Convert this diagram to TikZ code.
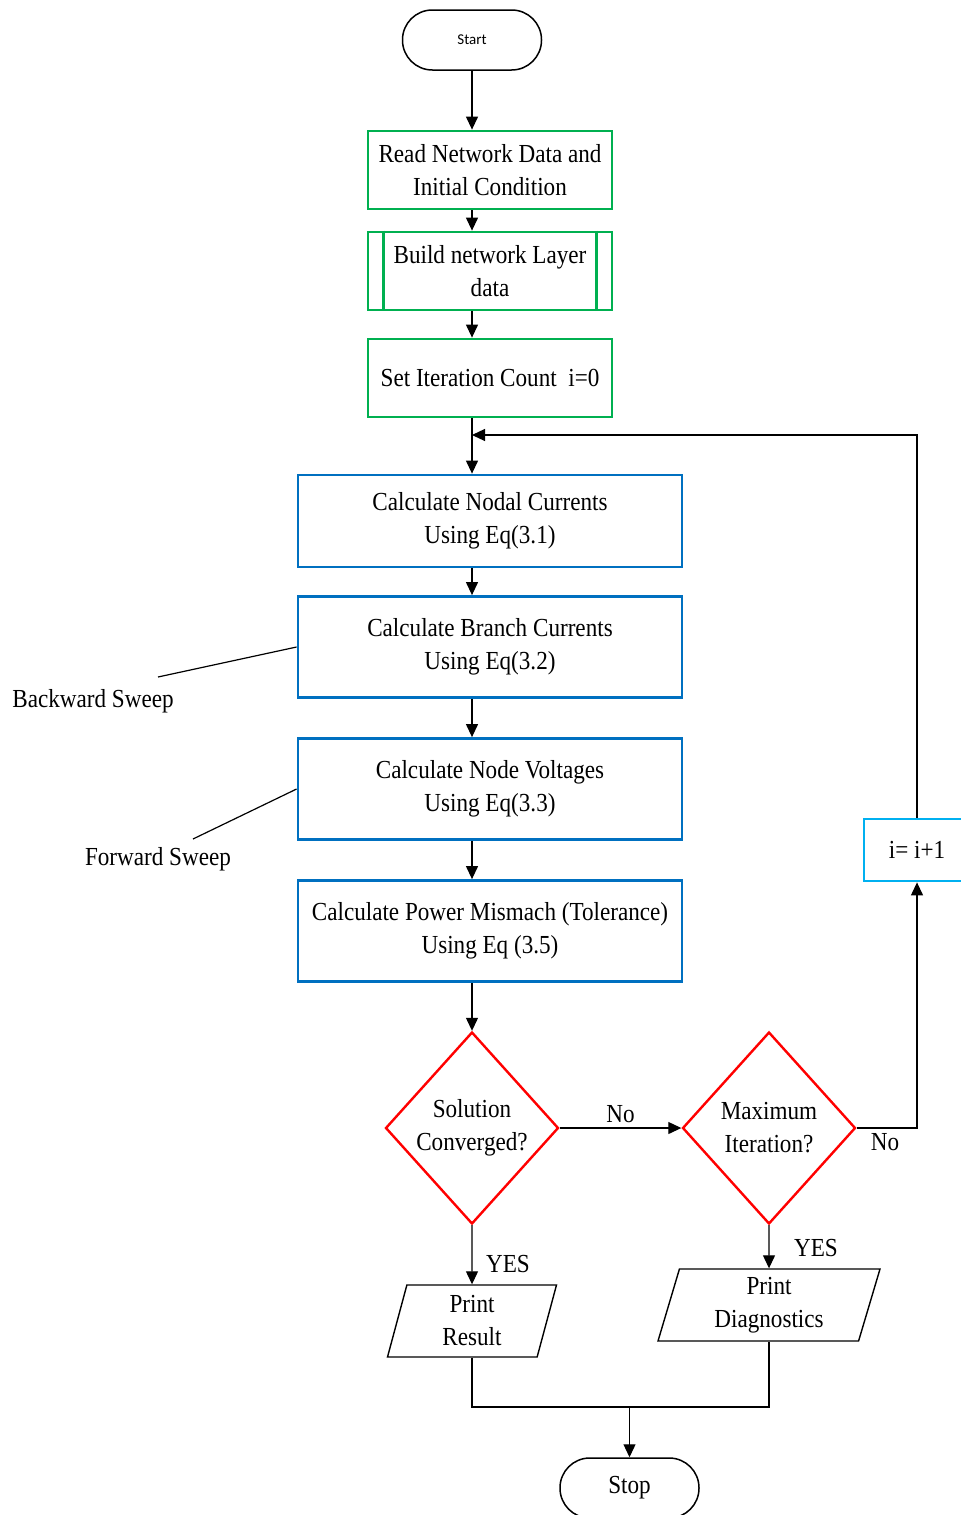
\documentclass[tikz,border=0pt]{standalone}
\usepackage{fontspec}
\setmainfont{Liberation Serif}[FakeStretch=0.89]
\newfontfamily\startfont{Carlito}
\usetikzlibrary{arrows.meta,shapes.geometric}

\definecolor{flowgreen}{HTML}{00B050}
\definecolor{flowblue}{HTML}{0070C0}
\definecolor{flowcyan}{HTML}{00B0F0}
\definecolor{flowred}{HTML}{FF0000}

\tikzset{
  txt/.style={font=\fontsize{13}{16.5}\selectfont, align=center},
  term/.style={txt, draw, line width=0.75pt, rounded corners=14.9pt,
    minimum width=69.5pt, minimum height=30pt, inner sep=0pt},
  greenbox/.style={txt, draw=flowgreen, line width=1.4pt,
    minimum width=122pt, minimum height=39pt, inner sep=0pt},
  bluebox/.style={txt, draw=flowblue, line width=1.4pt,
    minimum width=192pt, minimum height=50.5pt, inner sep=0pt},
  decide/.style={txt, diamond, draw=flowred, line width=1.2pt,
    minimum width=86.5pt, minimum height=96pt, inner sep=-14pt},
  iobox/.style={txt, trapezium, draw, line width=0.7pt,
    trapezium left angle=69, trapezium right angle=111,
    trapezium stretches body=true, minimum height=36pt, inner sep=0pt},
  arr/.style={-{Triangle[length=6.5pt,width=6pt]}, line width=0.6pt},
  line/.style={line width=0.6pt},
}

\begin{document}
\begin{tikzpicture}[x=0.5pt, y=-0.5pt]
  \useasboundingbox (0,0) rectangle (961,1515);

  % main column
  \coordinate (axis) at (472,0);
  \node[term, font=\startfont\fontsize{7.5}{9}\selectfont] (start) at (472,40) {Start};
  \node[greenbox] (read) at (490,170) {Read Network Data and\\Initial Condition};
  \node[greenbox] (build) at (490,271) {Build network Layer\\data};
  \draw[draw=flowgreen, line width=1.4pt] ([xshift=8.5pt]build.north west) -- ([xshift=8.5pt]build.south west);
  \draw[draw=flowgreen, line width=1.4pt] ([xshift=-8.5pt]build.north east) -- ([xshift=-8.5pt]build.south east);
  \node[greenbox] (count) at (490,378) {Set Iteration Count~~i=0};

  \node[bluebox, minimum height=46pt] (nodal) at (490,521) {Calculate Nodal Currents\\Using Eq(3.1)};
  \node[bluebox] (branch) at (490,647) {Calculate Branch Currents\\Using Eq(3.2)};
  \node[bluebox] (volt) at (490,789) {Calculate Node Voltages\\Using Eq(3.3)};
  \node[bluebox] (power) at (490,931) {Calculate Power Mismach (Tolerance)\\Using Eq (3.5)};

  \node[decide] (conv) at (472,1128) {Solution\\Converged?};
  \node[decide] (maxit) at (769,1128) {Maximum\\Iteration?};
  \node[txt, draw=flowcyan, line width=1.4pt, minimum width=53pt, minimum height=31pt] (inc) at (917,850) {i= i+1};

  \node[iobox, minimum width=84.5pt] (res) at (472,1321) {Print\\Result};
  \node[iobox, minimum width=111pt] (diag) at (769,1305) {Print\\Diagnostics};
  \node[term, font=\fontsize{13}{16.5}\selectfont] (stop) at (629.5,1488) {Stop};

  % side labels
  \node[txt] (bwlabel) at (93,701) {Backward Sweep};
  \node[txt] (fwlabel) at (158,859) {Forward Sweep};
  \coordinate (bw) at (158,677);
  \coordinate (fw) at (193,839);
  \draw[line] (bw) -- (branch.west);
  \draw[line] (fw) -- (volt.west);

  % connectors
  \draw[arr] (start.south) -- (read.north -| axis);
  \draw[arr] (read.south -| axis) -- (build.north -| axis);
  \draw[arr] (build.south -| axis) -- (count.north -| axis);
  \draw[arr] (count.south -| axis) -- (nodal.north -| axis);
  \draw[arr] (nodal.south -| axis) -- (branch.north -| axis);
  \draw[arr] (branch.south -| axis) -- (volt.north -| axis);
  \draw[arr] (volt.south -| axis) -- (power.north -| axis);
  \draw[arr] (power.south -| axis) -- (conv.north);

  \draw[arr] (conv.east) -- node[txt, above, yshift=-1pt] (no1) {No} (maxit.west);
  \draw[arr] (maxit.east) -| (inc.south);
  \node[txt] (no2) at (885,1142) {No};
  \coordinate (loop) at (472,435);
  \draw[arr] (inc.north) |- (loop);

  \draw[arr] (conv.south) -- (res.north);
  \node[txt] (yes1) at (508,1264) {YES};
  \draw[arr] (maxit.south) -- (diag.north);
  \node[txt] (yes2) at (816,1248) {YES};

  \coordinate (join) at (629.5,1407);
  \draw[line] (res.south) |- (join) -| (diag.south);
  \draw[arr] (join) -- (stop.north);
\end{tikzpicture}
\end{document}
